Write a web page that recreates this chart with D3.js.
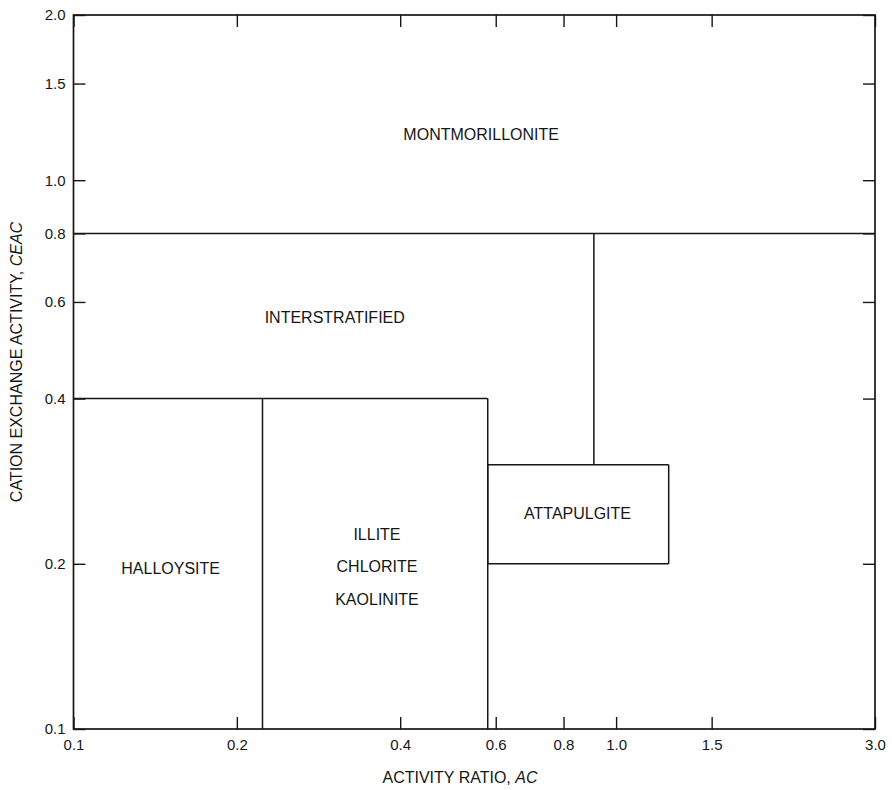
<!DOCTYPE html>
<html>
<head>
<meta charset="utf-8">
<script src="https://cdn.jsdelivr.net/npm/d3@7"></script>
<style>
  html, body { margin: 0; padding: 0; background: #fff; }
  svg { display: block; font-family: "Liberation Sans", Arial, Helvetica, sans-serif; }
</style>
</head>
<body>
<svg id="chart" width="892" height="790"></svg>
<script>
// ---- data ----
const xDomain = [0.1, 3.0];
const yDomain = [0.1, 2.0];
const xTickValues = [0.1, 0.2, 0.4, 0.6, 0.8, 1.0, 1.5, 3.0];
const yTickValues = [0.1, 0.2, 0.4, 0.6, 0.8, 1.0, 1.5, 2.0];

// field boundaries [x1, y1, x2, y2] in data units
const boundaries = [
  [0.1, 0.8, 3.0, 0.8],     // montmorillonite / interstratified
  [0.1, 0.4, 0.58, 0.4],    // interstratified / halloysite, illite
  [0.223, 0.1, 0.223, 0.4], // halloysite / illite
  [0.58, 0.1, 0.58, 0.4],   // illite right edge
  [0.58, 0.303, 1.25, 0.303], // attapulgite top
  [0.58, 0.2, 1.25, 0.2],   // attapulgite bottom
  [1.25, 0.2, 1.25, 0.303], // attapulgite right
  [0.58, 0.2, 0.58, 0.303], // attapulgite left
  [0.91, 0.303, 0.91, 0.8]  // interstratified / right field
];

const fieldNames = ["MONTMORILLONITE", "INTERSTRATIFIED", "HALLOYSITE", "ILLITE", "CHLORITE", "KAOLINITE", "ATTAPULGITE"];
const fieldX = [0.564, 0.303, 0.151, 0.3625, 0.3625, 0.3625, 0.849];
const fieldY = [1.21, 0.561, 0.1965, 0.2257, 0.1975, 0.1725, 0.2465];

// ---- chart ----
const svg = d3.select("#chart");
const mLeft = 73.5, mRight = 875, mTop = 15, mBottom = 729;
const x = d3.scaleLog().domain(xDomain).range([mLeft, mRight]);
const y = d3.scaleLog().domain(yDomain).range([mBottom, mTop]);
const fmt = d3.format(".1f");
const ink = "#161616";

function styleAxis(g) {
  g.select(".domain").remove();
  g.selectAll(".tick line").attr("stroke", ink).attr("stroke-width", 1.4);
  g.selectAll(".tick text").attr("fill", ink).attr("font-size", 15);
}

svg.append("g").attr("transform", `translate(0,${mBottom})`)
  .call(d3.axisBottom(x).tickValues(xTickValues).tickFormat(fmt).tickSizeInner(-12).tickSizeOuter(0).tickPadding(10))
  .call(styleAxis);
svg.append("g").attr("transform", `translate(0,${mTop})`)
  .call(d3.axisTop(x).tickValues(xTickValues).tickFormat("").tickSizeInner(-12).tickSizeOuter(0))
  .call(styleAxis);
svg.append("g").attr("transform", `translate(${mLeft},0)`)
  .call(d3.axisLeft(y).tickValues(yTickValues).tickFormat(fmt).tickSizeInner(-12).tickSizeOuter(0).tickPadding(8))
  .call(styleAxis);
svg.append("g").attr("transform", `translate(${mRight},0)`)
  .call(d3.axisRight(y).tickValues(yTickValues).tickFormat("").tickSizeInner(-12).tickSizeOuter(0))
  .call(styleAxis);

// frame
svg.append("rect")
  .attr("x", x(xDomain[0])).attr("y", y(yDomain[1]))
  .attr("width", x(xDomain[1]) - x(xDomain[0]))
  .attr("height", y(yDomain[0]) - y(yDomain[1]))
  .attr("fill", "none").attr("stroke", ink).attr("stroke-width", 1.7);

// boundaries
svg.append("g").selectAll("line").data(boundaries).join("line")
  .attr("x1", d => x(d[0])).attr("y1", d => y(d[1]))
  .attr("x2", d => x(d[2])).attr("y2", d => y(d[3]))
  .attr("stroke", ink).attr("stroke-width", 1.5);

// field labels
svg.append("g").selectAll("text").data(fieldNames).join("text")
  .attr("x", (d, i) => x(fieldX[i]))
  .attr("y", (d, i) => y(fieldY[i]))
  .attr("text-anchor", "middle")
  .attr("dominant-baseline", "central")
  .attr("font-size", 16)
  .attr("fill", ink)
  .text(d => d);

// axis titles
const xt = svg.append("text")
  .attr("x", 460).attr("y", 783)
  .attr("text-anchor", "middle").attr("font-size", 16).attr("fill", ink);
xt.append("tspan").text("ACTIVITY RATIO, ");
xt.append("tspan").attr("font-style", "italic").text("AC");

const yt = svg.append("text")
  .attr("transform", "translate(22,362) rotate(-90)")
  .attr("text-anchor", "middle").attr("font-size", 16).attr("fill", ink);
yt.append("tspan").text("CATION EXCHANGE ACTIVITY, ");
yt.append("tspan").attr("font-style", "italic").text("CEAC");
</script>
</body>
</html>
